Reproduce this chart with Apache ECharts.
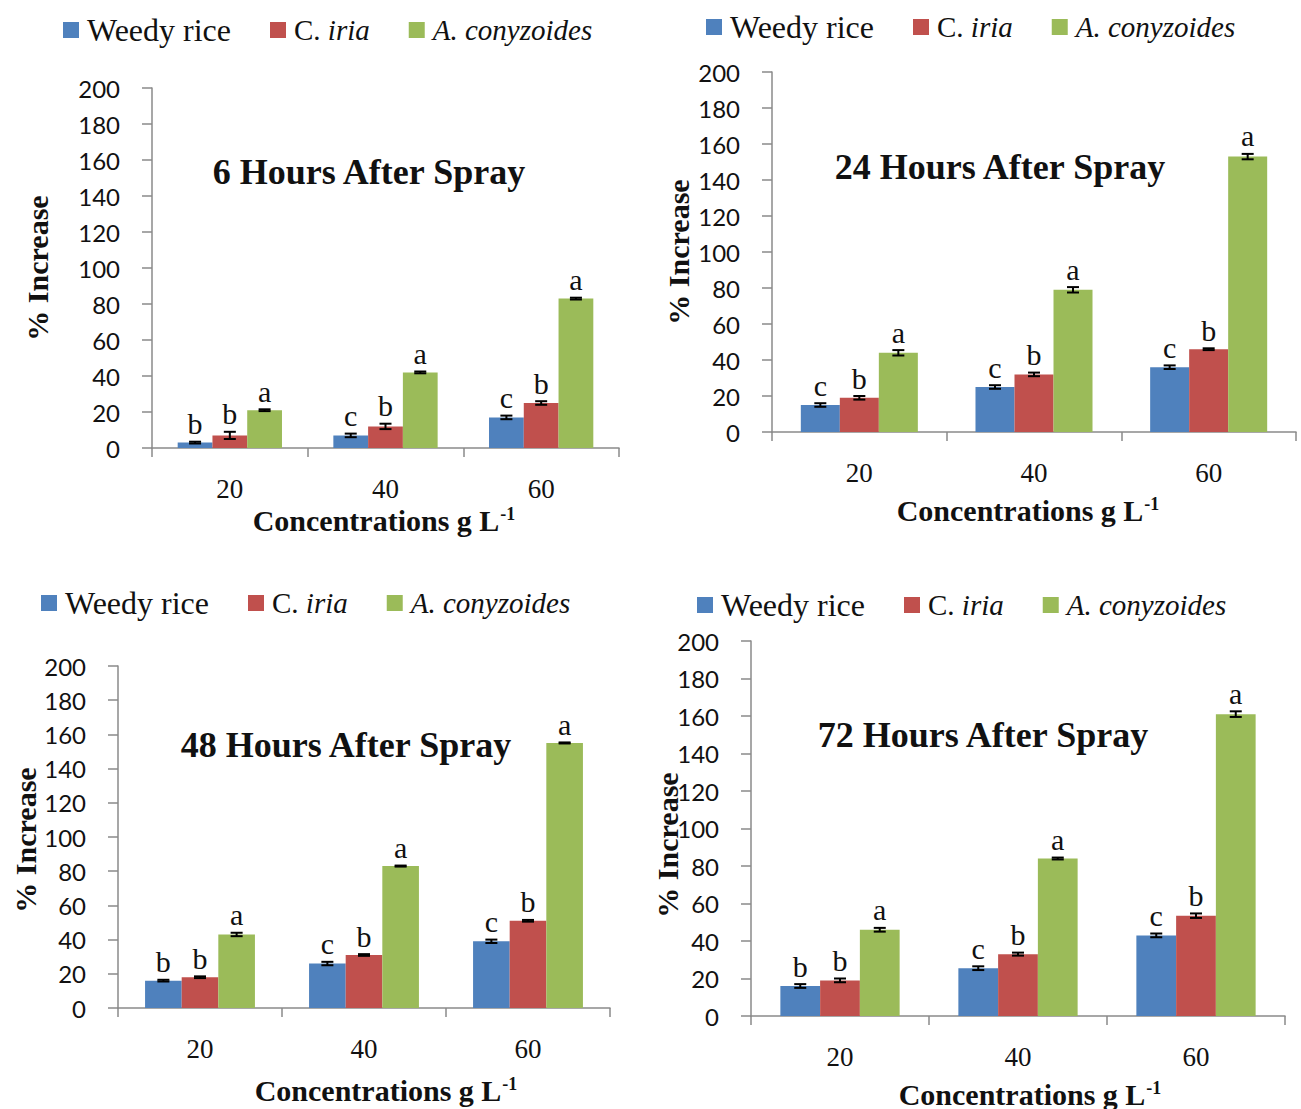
<!DOCTYPE html>
<html>
<head>
<meta charset="utf-8">
<script src="https://cdn.jsdelivr.net/npm/echarts@6/dist/echarts.min.js"></script>
<style>
html,body{margin:0;padding:0;background:#fff;}
#main{width:1301px;height:1109px;}
</style>
</head>
<body>
<div id="main"></div>
<script>
// ---------- DATA ----------
const categories = ['20', '40', '60'];
const seriesNames = ['Weedy rice', 'C. iria', 'A. conyzoides'];
const panelTitles = ['6 Hours After Spray', '24 Hours After Spray', '48 Hours After Spray', '72 Hours After Spray'];

// 6 h
const weedy6 = [3, 7, 17];
const iria6 = [7, 12, 25];
const acon6 = [21, 42, 83];
const weedy6Err = [0.5, 1, 1];
const iria6Err = [2, 1.5, 1];
const acon6Err = [0.5, 0.5, 0.5];
const weedy6Let = ['b', 'c', 'c'];
const iria6Let = ['b', 'b', 'b'];
const acon6Let = ['a', 'a', 'a'];

// 24 h
const weedy24 = [15, 25, 36];
const iria24 = [19, 32, 46];
const acon24 = [44, 79, 153];
const weedy24Err = [1, 1, 1];
const iria24Err = [1, 1, 0.5];
const acon24Err = [1.5, 1.5, 1.5];
const weedy24Let = ['c', 'c', 'c'];
const iria24Let = ['b', 'b', 'b'];
const acon24Let = ['a', 'a', 'a'];

// 48 h
const weedy48 = [16, 26, 39];
const iria48 = [18, 31, 51];
const acon48 = [43, 83, 155];
const weedy48Err = [0.5, 1, 1];
const iria48Err = [0.5, 0.5, 0.5];
const acon48Err = [1, 0.3, 0.3];
const weedy48Let = ['b', 'c', 'c'];
const iria48Let = ['b', 'b', 'b'];
const acon48Let = ['a', 'a', 'a'];

// 72 h
const weedy72 = [16, 25.5, 43];
const iria72 = [19, 33, 53.5];
const acon72 = [46, 84, 161];
const weedy72Err = [1, 1, 1];
const iria72Err = [1, 0.8, 1.2];
const acon72Err = [1, 0.5, 1.5];
const weedy72Let = ['b', 'c', 'c'];
const iria72Let = ['b', 'b', 'b'];
const acon72Let = ['a', 'a', 'a'];

const yTicks = { min: 0, max: 200, interval: 20 };

// ---------- LAYOUT / STYLE ----------
const colors = ['#4F81BD', '#C0504D', '#9BBB59'];
const SERIF = '"Liberation Serif", "Times New Roman", serif';
const SANS = 'Lato, "Open Sans", sans-serif';
const AXIS_GREY = '#8a8a8a';
const CAT_GAP = 0.33;

const panels = [
  { vals: [weedy6, iria6, acon6], errs: [weedy6Err, iria6Err, acon6Err], lets: [weedy6Let, iria6Let, acon6Let],
    grid: { left: 152, top: 88, width: 467, height: 360 }, legend: { left: 63, top: 14 },
    title: [369, 172], xName: [384, 520], yName: [37, 268] },
  { vals: [weedy24, iria24, acon24], errs: [weedy24Err, iria24Err, acon24Err], lets: [weedy24Let, iria24Let, acon24Let],
    grid: { left: 772, top: 72, width: 524, height: 360 }, legend: { left: 706, top: 11 },
    title: [1000, 167], xName: [1028, 510], yName: [678, 252] },
  { vals: [weedy48, iria48, acon48], errs: [weedy48Err, iria48Err, acon48Err], lets: [weedy48Let, iria48Let, acon48Let],
    grid: { left: 118, top: 666, width: 492, height: 342 }, legend: { left: 41, top: 587 },
    title: [346, 745], xName: [386, 1090], yName: [25, 840] },
  { vals: [weedy72, iria72, acon72], errs: [weedy72Err, iria72Err, acon72Err], lets: [weedy72Let, iria72Let, acon72Let],
    grid: { left: 751, top: 641, width: 534, height: 375 }, legend: { left: 697, top: 589 },
    title: [983, 735], xName: [1030, 1094], yName: [667, 845] }
];

const grids = [], xAxes = [], yAxes = [], legends = [], series = [], graphics = [];

panels.forEach((p, pi) => {
  grids.push(Object.assign({ containLabel: false }, p.grid));
  xAxes.push({
    type: 'category', gridIndex: pi, data: categories,
    axisLine: { show: true, lineStyle: { color: AXIS_GREY, width: 1.5 } },
    axisTick: { show: true, length: 9, lineStyle: { color: AXIS_GREY, width: 1.5 } },
    axisLabel: { margin: 27, fontFamily: SERIF, fontSize: 27, color: '#111' },
    splitLine: { show: false }
  });
  yAxes.push({
    type: 'value', gridIndex: pi, min: yTicks.min, max: yTicks.max, interval: yTicks.interval,
    axisLine: { show: true, lineStyle: { color: AXIS_GREY, width: 1.5 } },
    axisTick: { show: true, length: 10, lineStyle: { color: AXIS_GREY, width: 1.5 } },
    axisLabel: { margin: 32, fontFamily: SANS, fontSize: 24, color: '#111' },
    splitLine: { show: false }
  });
  legends.push({
    left: p.legend.left, top: p.legend.top, padding: 0, itemGap: 39, itemWidth: 16, itemHeight: 16,
    icon: 'rect', data: seriesNames,
    textStyle: {
      fontFamily: SERIF, fontSize: 32, color: '#111', padding: [0, 0, 0, 3],
      rich: { i: { fontFamily: SERIF, fontSize: 29, fontStyle: 'italic', color: '#111' },
              r: { fontFamily: SERIF, fontSize: 29, color: '#111' } }
    },
    formatter: function (name) {
      if (name === 'C. iria') return '{r|C. }{i|iria}';
      if (name === 'A. conyzoides') return '{i|A. conyzoides}';
      return name;
    }
  });

  p.vals.forEach((vals, si) => {
    series.push({
      name: seriesNames[si], type: 'bar', xAxisIndex: pi, yAxisIndex: pi,
      data: vals, barGap: '0%', barCategoryGap: (CAT_GAP * 100) + '%',
      itemStyle: { color: colors[si] }, emphasis: { disabled: true }
    });
  });

  p.vals.forEach((vals, si) => {
    const errs = p.errs[si], lets = p.lets[si];
    series.push({
      type: 'custom', xAxisIndex: pi, yAxisIndex: pi, z: 5,
      data: vals.map((v, i) => [i, v, errs[i]]),
      renderItem: function (params, api) {
        const ci = api.value(0), v = api.value(1), e = api.value(2);
        const catW = api.size([1, 0])[0];
        const barW = catW * (1 - CAT_GAP) / 3;
        const c = api.coord([ci, v]);
        const x = c[0] + (si - 1) * barW;
        const yTop = api.coord([ci, v + e])[1];
        const yBot = api.coord([ci, v - e])[1];
        const cap = 6;
        const ls = { stroke: '#000', lineWidth: 2 };
        return {
          type: 'group',
          children: [
            { type: 'line', shape: { x1: x, y1: yTop, x2: x, y2: yBot }, style: ls },
            { type: 'line', shape: { x1: x - cap, y1: yTop, x2: x + cap, y2: yTop }, style: ls },
            { type: 'line', shape: { x1: x - cap, y1: yBot, x2: x + cap, y2: yBot }, style: ls },
            { type: 'text', x: x, y: yTop - 3,
              style: { text: lets[params.dataIndex], align: 'center', verticalAlign: 'bottom',
                       fontFamily: SERIF, fontSize: 30, fill: '#111' } }
          ]
        };
      }
    });
  });

  graphics.push({
    type: 'text', x: p.title[0], y: p.title[1],
    style: { text: panelTitles[pi], align: 'center', verticalAlign: 'middle',
             fontFamily: SERIF, fontWeight: 'bold', fontSize: 36, fill: '#111' }
  });
  graphics.push({
    type: 'text', x: p.xName[0], y: p.xName[1],
    style: { text: '{n|Concentrations g L}{s|-1}', align: 'center', verticalAlign: 'middle',
             rich: {
               n: { fontFamily: SERIF, fontWeight: 'bold', fontSize: 30, fill: '#111', lineHeight: 30 },
               s: { fontFamily: SERIF, fontWeight: 'bold', fontSize: 18, fill: '#111', verticalAlign: 'top', lineHeight: 30, padding: [0, 0, 10, 1] }
             } }
  });
  graphics.push({
    type: 'text', x: p.yName[0], y: p.yName[1], rotation: Math.PI / 2,
    style: { text: '% Increase', align: 'center', verticalAlign: 'middle',
             fontFamily: SERIF, fontWeight: 'bold', fontSize: 30, fill: '#111' }
  });
});

const chart = echarts.init(document.getElementById('main'), null, { renderer: 'svg' });
chart.setOption({
  animation: false,
  backgroundColor: '#fff',
  grid: grids,
  xAxis: xAxes,
  yAxis: yAxes,
  legend: legends,
  series: series,
  graphic: graphics
});
</script>
</body>
</html>
